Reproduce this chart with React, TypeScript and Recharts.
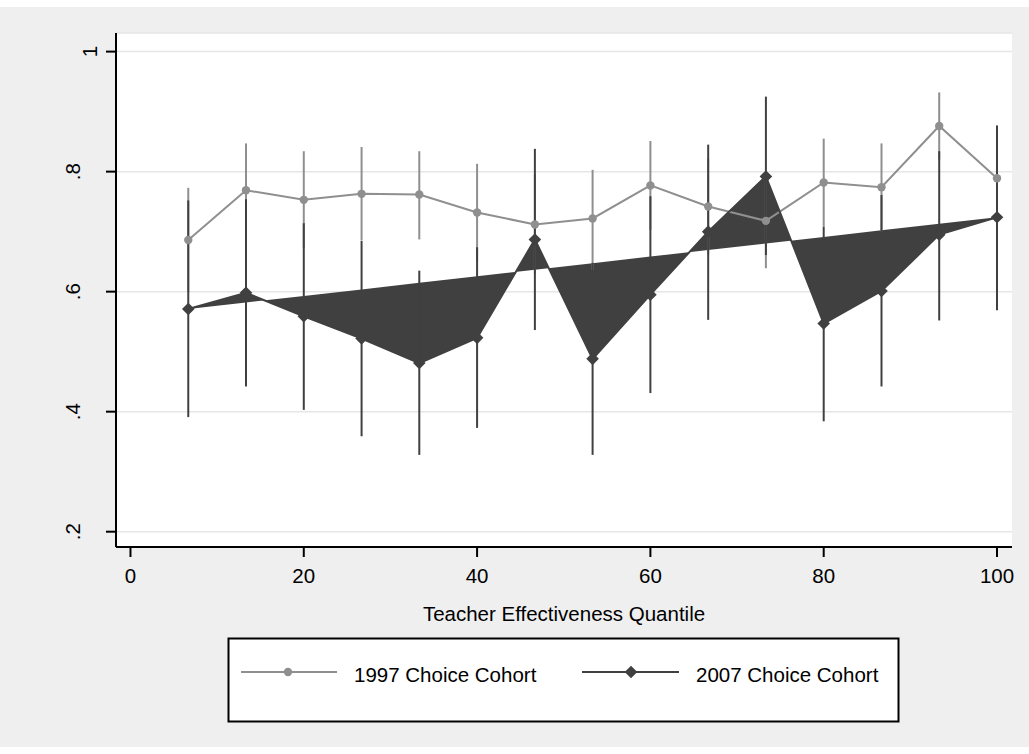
import { ComposedChart, Line, Area, XAxis, YAxis, CartesianGrid, ErrorBar } from 'recharts';

// quantile positions (15 groups)
const quantiles = [6.67, 13.33, 20, 26.67, 33.33, 40, 46.67, 53.33, 60, 66.67, 73.33, 80, 86.67, 93.33, 100];

const cohort1997 = [0.686, 0.769, 0.753, 0.763, 0.762, 0.732, 0.712, 0.722, 0.777, 0.742, 0.718, 0.782, 0.774, 0.876, 0.789];
const low1997 = [0.599, 0.691, 0.672, 0.686, 0.687, 0.651, 0.63, 0.636, 0.703, 0.662, 0.639, 0.708, 0.7, 0.82, 0.71];
const high1997 = [0.773, 0.847, 0.834, 0.841, 0.834, 0.813, 0.795, 0.803, 0.851, 0.822, 0.797, 0.855, 0.847, 0.932, 0.868];

const cohort2007 = [0.571, 0.598, 0.559, 0.522, 0.481, 0.523, 0.687, 0.488, 0.595, 0.7, 0.792, 0.547, 0.601, 0.695, 0.724];
const low2007 = [0.391, 0.442, 0.403, 0.359, 0.328, 0.373, 0.536, 0.328, 0.431, 0.553, 0.661, 0.384, 0.442, 0.552, 0.569];
const high2007 = [0.752, 0.754, 0.714, 0.685, 0.635, 0.674, 0.838, 0.648, 0.759, 0.845, 0.925, 0.708, 0.761, 0.834, 0.877];

const xTicks = [0, 20, 40, 60, 80, 100];
const yTicks = [0.2, 0.4, 0.6, 0.8, 1];
const yTickLabels = ['.2', '.4', '.6', '.8', '1'];

const FONT = '"Liberation Sans", Arial, Helvetica, sans-serif';
const LIGHT = '#8f8f8f';
const DARK = '#404040';

const n = quantiles.length;
const first = cohort2007[0];
const last = cohort2007[n - 1];

const data = quantiles.map((q, i) => ({
  q,
  y97: cohort1997[i],
  err97: [cohort1997[i] - low1997[i], high1997[i] - cohort1997[i]],
  y07: cohort2007[i],
  err07: [cohort2007[i] - low2007[i], high2007[i] - cohort2007[i]],
  // stata fills the 2007 line back to its first point: chord from first to last
  band: [first + ((last - first) * (q - quantiles[0])) / (quantiles[n - 1] - quantiles[0]), cohort2007[i]],
}));

function YTick(props: any) {
  const { x, y, payload } = props;
  const i = yTicks.indexOf(payload.value);
  const label = i >= 0 ? yTickLabels[i] : String(payload.value);
  const bx = label.length > 1 ? x - 26 : x - 9;
  return (
    <text x={bx} y={y} transform={`rotate(-90 ${bx} ${y})`} textAnchor="middle" fontSize={20.5} fontFamily={FONT} fill="#000">
      {label}
    </text>
  );
}

function diamondPath(cx: number, cy: number, s: number) {
  return `M${cx} ${cy - s}L${cx + s} ${cy}L${cx} ${cy + s}L${cx - s} ${cy}Z`;
}

function Diamond(props: any) {
  const { cx, cy, index } = props;
  return <path key={`dm-${index}`} d={diamondPath(cx, cy, 6.3)} fill={DARK} />;
}

function Dot(props: any) {
  const { cx, cy, index } = props;
  return <circle key={`dt-${index}`} cx={cx} cy={cy} r={4.2} fill={LIGHT} />;
}

function LegendBox() {
  return (
    <svg width={1029} height={754} style={{ position: 'absolute', left: 0, top: 0, pointerEvents: 'none' }}>
      <rect x={228.5} y={638.5} width={670} height={83} fill="#fff" stroke="#000" strokeWidth={2} />
      <line x1={241} x2={337} y1={672} y2={672} stroke={LIGHT} strokeWidth={2} />
      <circle cx={288} cy={672} r={4.2} fill={LIGHT} />
      <text x={354} y={681.5} fontSize={20.5} fontFamily={FONT} fill="#000">1997 Choice Cohort</text>
      <line x1={582} x2={679} y1={672} y2={672} stroke={DARK} strokeWidth={2} />
      <path d={diamondPath(631, 672, 6.3)} fill={DARK} />
      <text x={696} y={681.5} fontSize={20.5} fontFamily={FONT} fill="#000">2007 Choice Cohort</text>
    </svg>
  );
}

export default function App() {
  return (
    <div style={{ position: 'absolute', left: 0, top: 0, width: 1029, height: 754, background: '#fff' }}>
      <div style={{ position: 'absolute', left: 0, top: 7, width: 1029, height: 740, background: '#efefef' }} />
      <div style={{ position: 'absolute', left: 0, top: 0 }}>
        <ComposedChart width={1029} height={754} data={data} margin={{ top: 33, right: 17, bottom: 127, left: 0 }}>
          <CartesianGrid vertical={false} fill="#fff" stroke="#e6e6e6" strokeWidth={1.5} />
          <XAxis
            dataKey="q"
            type="number"
            domain={[-1.67, 101.73]}
            ticks={xTicks}
            allowDataOverflow
            height={80}
            tickSize={10}
            tickMargin={11}
            axisLine={{ stroke: '#000', strokeWidth: 2 }}
            tickLine={{ stroke: '#000', strokeWidth: 2 }}
            tick={{ fill: '#000', fontSize: 20.5, fontFamily: FONT }}
            label={{ value: 'Teacher Effectiveness Quantile', position: 'insideBottom', offset: 6, fill: '#000', fontSize: 20.5, fontFamily: FONT }}
          />
          <YAxis
            type="number"
            domain={[0.1745, 1.031]}
            ticks={yTicks}
            allowDataOverflow
            width={116}
            tickSize={10}
            tickMargin={0}
            axisLine={{ stroke: '#000', strokeWidth: 2 }}
            tickLine={{ stroke: '#000', strokeWidth: 2 }}
            tick={<YTick />}
          />
          {/* confidence intervals first, then the connected lines */}
          <Line dataKey="y97" stroke="none" dot={false} activeDot={false} isAnimationActive={false}>
            <ErrorBar dataKey="err97" width={0} stroke={LIGHT} strokeWidth={2} isAnimationActive={false} />
          </Line>
          <Line dataKey="y07" stroke="none" dot={false} activeDot={false} isAnimationActive={false}>
            <ErrorBar dataKey="err07" width={0} stroke={DARK} strokeWidth={2} isAnimationActive={false} />
          </Line>
          <Line dataKey="y97" type="linear" stroke={LIGHT} strokeWidth={2} dot={Dot} activeDot={false} isAnimationActive={false} />
          <Area dataKey="band" type="linear" stroke="none" fill={DARK} fillOpacity={1} activeDot={false} isAnimationActive={false} />
          <Line dataKey="y07" type="linear" stroke={DARK} strokeWidth={2} dot={Diamond} activeDot={false} isAnimationActive={false} />
        </ComposedChart>
      </div>
      <LegendBox />
    </div>
  );
}
